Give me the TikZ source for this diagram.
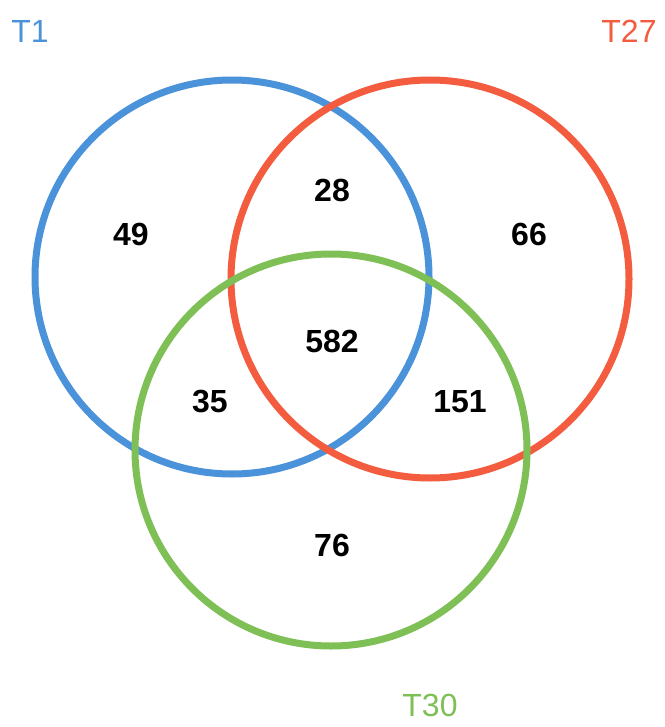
\documentclass[tikz,border=0pt]{standalone}
\usepackage{fontspec}
\setmainfont{Liberation Sans}
\definecolor{vblue}{RGB}{74,146,218}
\definecolor{vred}{RGB}{243,92,62}
\definecolor{vgreen}{RGB}{126,192,86}
\tikzset{
  ring/.style={line width=7pt},
  count/.style={font=\fontsize{32}{34}\selectfont\bfseries, inner sep=0pt},
  setlabel/.style={font=\fontsize{32}{34}\selectfont, inner sep=0pt}
}
\begin{document}
\begin{tikzpicture}[x=1pt,y=-1pt]
\useasboundingbox[fill=white] (0,0) rectangle (664,727);
\draw[ring, vblue] (232,277) circle[radius=197];
\draw[ring, vred] (430,279) circle[radius=199];
\draw[ring, vgreen] (331,450) circle[radius=196];
\node[count] (n49) at (131,234) {49};
\node[count] (n28) at (332,190) {28};
\node[count] (n66) at (529,234) {66};
\node[count] (n582) at (332,341) {582};
\node[count] (n35) at (210,402) {35};
\node[count] (n151) at (460,402) {151};
\node[count] (n76) at (332,545) {76};
\node[setlabel, text=vblue] (t1) at (30,31) {T1};
\node[setlabel, text=vred] (t27) at (629,31) {T27};
\node[setlabel, text=vgreen] (t30) at (430,705) {T30};
\end{tikzpicture}
\end{document}
